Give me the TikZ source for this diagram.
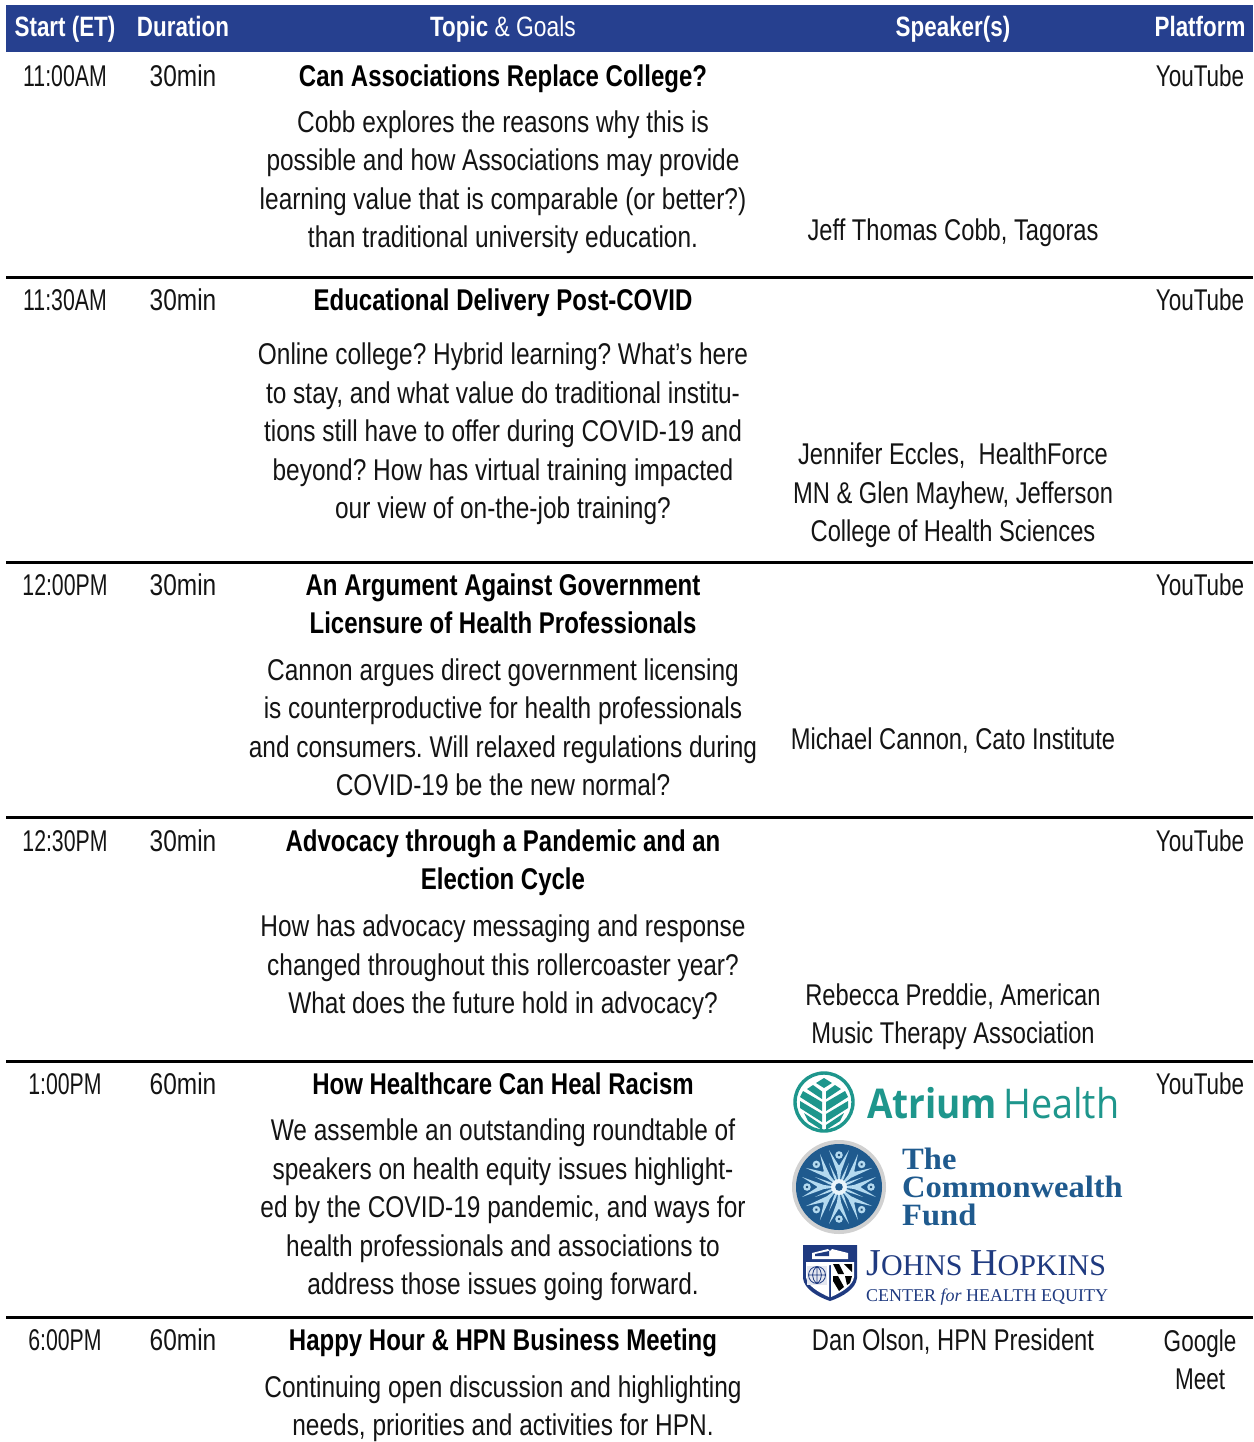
\documentclass[tikz,border=0pt]{standalone}
\usepackage{fontspec}
\setmainfont[FakeStretch=0.815]{Liberation Sans}
\newfontfamily\hdf[FakeStretch=0.80]{Liberation Sans Bold}
\newfontfamily\atf{Open Sans}
\newfontfamily\srf{Liberation Serif}
\definecolor{hdrblue}{HTML}{26408F}
\definecolor{teal1}{HTML}{1E968C}
\definecolor{cwblue}{HTML}{1F5A8E}
\definecolor{cwlight}{HTML}{B4DAF0}
\definecolor{jhblue}{HTML}{1F3A80}
\tikzset{
  x=1pt,y=-1pt,
  cell/.style={anchor=base,inner sep=0pt,align=center,yshift=1.5pt,font=\frenchspacing\fontsize{30}{38.4}\selectfont,text=black!92},
  timecell/.style={cell,xscale=0.87},
  platcell/.style={cell,xscale=0.92},
  spk/.style={cell,xscale=0.97},
  ttl/.style={anchor=base,inner sep=0pt,align=center,yshift=1.5pt,font=\frenchspacing\fontsize{30}{38.4}\hdf,text=black},
  hdr/.style={anchor=base,inner sep=0pt,font=\fontsize{28}{32}\selectfont,text=white},
  rowrule/.style={draw=black,line width=3pt},
  logotext/.style={anchor=base west,inner sep=0pt},
}
\newcommand{\cwrays}{%
  \foreach \a in {0,45,...,315}{
    \begin{scope}[rotate=\a]
      \fill[cwlight] (0,0) -- (-2,-15) -- (-10,-37) -- (-0.5,-22) -- (0.5,-22) -- (10,-37) -- (2,-15) -- cycle;
      \fill[cwlight] (0,-32) circle (3.8);
      \fill[cwblue!80!black] (0,-32) circle (1.3);
    \end{scope}
    \begin{scope}[rotate=\a+22.5]
      \fill[cwlight] (0,0) -- (-1.2,-10) -- (0,-26) -- (1.2,-10) -- cycle;
    \end{scope}
  }%
}
\begin{document}
\begin{tikzpicture}
\useasboundingbox (0,0) rectangle (1253,1442);
\fill[white] (0,0) rectangle (1253,1442);
% header
\fill[hdrblue] (6,5) rectangle (1253,52);
\node[hdr] (h1) at (65,37) {\hdf Start (ET)};
\node[hdr] (h2) at (183,37) {\hdf Duration};
\node[hdr] (h3) at (503,37) {{\hdf Topic} \& Goals};
\node[hdr] (h4) at (953,37) {\hdf Speaker(s)};
\node[hdr] (h5) at (1200,37) {\hdf Platform};
% rules
\foreach \yy in {277,562,817,1061,1317} \draw[rowrule] (6,\yy) -- (1253,\yy);
% row 1
\node[timecell] (t1) at (65,88) {11:00AM};
\node[cell] (d1) at (183,88) {30min};
\node[ttl] (a1) at (503,88) {Can Associations Replace College?};
\node[cell] (b1) at (503,249) {Cobb explores the reasons why this is\\possible and how Associations may provide\\learning value that is comparable (or better?)\\than traditional university education.};
\node[spk] (s1) at (953,242) {Jeff Thomas Cobb, Tagoras};
\node[platcell] (p1) at (1200,88) {YouTube};
% row 2
\node[timecell] (t2) at (65,312) {11:30AM};
\node[cell] (d2) at (183,312) {30min};
\node[ttl] (a2) at (503,312) {Educational Delivery Post-COVID};
\node[cell] (b2) at (503,520) {Online college? Hybrid learning? What’s here\\to stay, and what value do traditional institu-\\tions still have to offer during COVID-19 and\\beyond? How has virtual training impacted\\our view of on-the-job training?};
\node[spk] (s2) at (953,543) {Jennifer Eccles,~ HealthForce\\MN \& Glen Mayhew, Jefferson\\College of Health Sciences};
\node[platcell] (p2) at (1200,312) {YouTube};
% row 3
\node[timecell] (t3) at (65,597) {12:00PM};
\node[cell] (d3) at (183,597) {30min};
\node[ttl] (a3) at (503,635) {An Argument Against Government\\Licensure of Health Professionals};
\node[cell] (b3) at (503,797) {Cannon argues direct government licensing\\is counterproductive for health professionals\\and consumers. Will relaxed regulations during\\COVID-19 be the new normal?};
\node[spk] (s3) at (953,751) {Michael Cannon, Cato Institute};
\node[platcell] (p3) at (1200,597) {YouTube};
% row 4
\node[timecell] (t4) at (65,853) {12:30PM};
\node[cell] (d4) at (183,853) {30min};
\node[ttl] (a4) at (503,891) {Advocacy through a Pandemic and an\\Election Cycle};
\node[cell] (b4) at (503,1015) {How has advocacy messaging and response\\changed throughout this rollercoaster year?\\What does the future hold in advocacy?};
\node[spk] (s4) at (953,1045) {Rebecca Preddie, American\\Music Therapy Association};
\node[platcell] (p4) at (1200,853) {YouTube};
% row 5
\node[timecell] (t5) at (65,1096) {1:00PM};
\node[cell] (d5) at (183,1096) {60min};
\node[ttl] (a5) at (503,1096) {How Healthcare Can Heal Racism};
\node[cell] (b5) at (503,1296) {We assemble an outstanding roundtable of\\speakers on health equity issues highlight-\\ed by the COVID-19 pandemic, and ways for\\health professionals and associations to\\address those issues going forward.};
\node[platcell] (p5) at (1200,1096) {YouTube};
% row 6
\node[timecell] (t6) at (65,1352) {6:00PM};
\node[cell] (d6) at (183,1352) {60min};
\node[ttl] (a6) at (503,1352) {Happy Hour \& HPN Business Meeting};
\node[cell] (b6) at (503,1437) {Continuing open discussion and highlighting\\needs, priorities and activities for HPN.};
\node[spk] (s6) at (953,1352) {Dan Olson, HPN President};
\node[platcell] (p6) at (1200,1391) {Google\\Meet};
% Atrium logo
\begin{scope}[shift={(824,1102)}]
  \draw[teal1,line width=3.4pt] (0,0) circle (29);
  \fill[teal1] (0,-24) -- (8,-19) -- (0,-14) -- (-8,-19) -- cycle;
  \foreach \s in {-1,1}{
    \begin{scope}[xscale=\s]
      \fill[teal1] (2,-10.5) -- (11,-17) -- (17,-13) -- (2,-3) -- cycle;
      \fill[teal1] (2,0) -- (21,-11) -- (24,-5) -- (2,9) -- cycle;
      \fill[teal1] (2,12) -- (24,-1) -- (24,6) -- (2,20) -- cycle;
      \fill[teal1] (2,23) -- (20,11) -- (16,19) -- (2,28) -- cycle;
    \end{scope}
  }
\end{scope}
\node[logotext,text=teal1,font=\fontsize{41}{41}\atf\bfseries,xscale=0.90] (ath) at (867,1118) {Atrium};
\node[logotext,text=teal1,font=\fontsize{41}{41}\atf,xscale=0.92] (hth) at (1003,1118) {Health};
% Commonwealth logo
\fill[black!18] (839,1187) circle (47);
\fill[cwblue] (839,1187) circle (43);
\begin{scope}[shift={(839,1187)}]
  \cwrays
  \fill[white!70!cwlight] (0,0) circle (8);
  \fill[cwblue] (0,0) circle (3.8);
\end{scope}
\node[logotext,text=cwblue,font=\fontsize{31}{31}\srf\bfseries,xscale=1.05] (cw1) at (902,1169) {The};
\node[logotext,text=cwblue,font=\fontsize{31}{31}\srf\bfseries,xscale=1.05] (cw2) at (902,1197) {Commonwealth};
\node[logotext,text=cwblue,font=\fontsize{31}{31}\srf\bfseries,xscale=1.05] (cw3) at (902,1225) {Fund};
% Johns Hopkins logo
\begin{scope}[shift={(830,1273)}]
  \fill[jhblue] (-27,-28) -- (27,-28) -- (27,5) .. controls (26,16) and (12,24) .. (0,28) .. controls (-12,24) and (-26,16) .. (-27,5) -- cycle;
  \fill[white] (-18,-20) -- (-2,-24) -- (0,-22) -- (2,-24) -- (18,-20) -- (18,-14) -- (-18,-14) -- cycle;
  \fill[jhblue] (-15,-19) -- (-1,-22) -- (-1,-17) -- (-15,-17) -- cycle;
  \fill[white] (-24,-11) -- (24,-11) -- (24,4) .. controls (23,13) and (10,20) .. (1,24) -- (1,-8) -- (-1,-8) -- (-1,24) .. controls (-10,20) and (-23,13) .. (-24,4) -- cycle;
  \fill[jhblue!12] (-23,-7) rectangle (-3,12);
  \draw[jhblue,line width=0.8pt] (-13,2) circle (8.5) (-21.5,2) -- (-4.5,2) (-13,-6.5) -- (-13,10.5) (-13,-6.5) .. controls (-19,-2) and (-19,6) .. (-13,10.5) (-13,-6.5) .. controls (-7,-2) and (-7,6) .. (-13,10.5);
  \fill[black] (3,-9) -- (9,-9) -- (14,1) -- (8,1) -- cycle;
  \fill[black] (14,-9) -- (22,-9) -- (22,-1) -- cycle;
  \fill[black] (3,3) -- (8,3) -- (14,14) -- (9,18) -- (3,8) -- cycle;
  \fill[black] (15,3) -- (22,3) -- (20,10) -- (17,12) -- cycle;
\end{scope}
\node[logotext,text=jhblue,font=\fontsize{30}{30}\srf] (jh) at (866,1275) {{\fontsize{38}{38}\selectfont J}OHNS {\fontsize{38}{38}\selectfont H}OPKINS};
\node[logotext,text=jhblue,font=\fontsize{18}{18}\srf] (jc) at (866,1301) {CENTER {\itshape for} HEALTH EQUITY};
\end{tikzpicture}
\end{document}
